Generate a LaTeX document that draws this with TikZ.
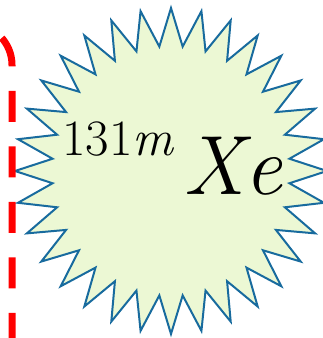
\documentclass[tikz,border=0pt]{standalone}
\definecolor{burstfill}{RGB}{236,248,212}
\definecolor{burstline}{RGB}{24,107,158}
\begin{document}
\begin{tikzpicture}[x=1pt,y=1pt]
\useasboundingbox (0,0) rectangle (322,338);
%%%%%star burst starts here
\def\cx{171}
\def\cy{167}
\def\rxo{156pt}
\def\ryo{163pt}
\def\rxi{119pt}
\def\ryi{125pt}
\def\n{32}
\begin{scope}[shift={(\cx,\cy)}]
\draw[burstline,fill=burstfill,line width=2pt,line join=miter]
 (90:{\rxo} and {\ryo})
 \foreach \k in {1,...,\n}
 { -- ({90+\k*360/\n-180/\n}:{\rxi} and {\ryi}) -- ({90+\k*360/\n}:{\rxo} and {\ryo}) } -- cycle;
\end{scope}
%%%%%star burst ends here
\node[anchor=base west,inner sep=0pt,font=\fontsize{51}{51}\selectfont] (mass) at (62,182) {131\textit{m}};
\node[anchor=base west,inner sep=0pt,font=\fontsize{84}{84}\selectfont\itshape] (elem) at (183,143) {Xe};
% red dashed boundary
\draw[red,line width=7pt,dash pattern=on 31pt off 24.5pt,dash phase=44pt]
 (-29,273) ++(135:41) arc[start angle=135,end angle=0,radius=41] -- (12,-10);
\end{tikzpicture}
\end{document}
